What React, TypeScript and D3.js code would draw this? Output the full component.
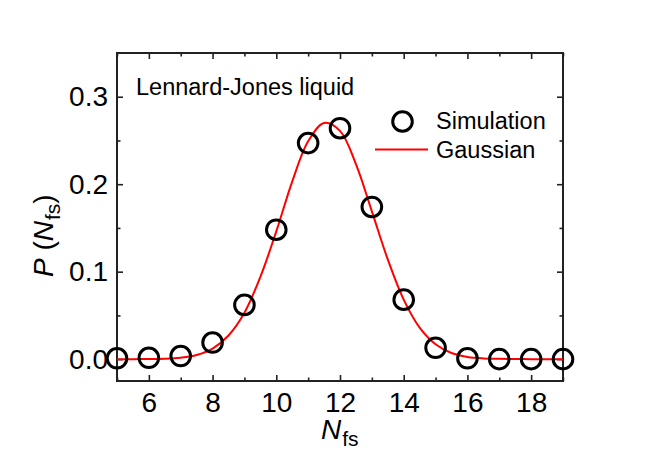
import React, { useEffect, useRef } from "react";
import * as d3 from "d3";

// number of first-shell neighbours
const nfs = [5, 6, 7, 8, 9, 10, 11, 12, 13, 14, 15, 16, 17, 18, 19];
// simulated probabilities (open circles)
const simulation = [0.001, 0.0015, 0.0035, 0.019, 0.062, 0.148, 0.247, 0.264, 0.174, 0.068, 0.013, 0.001, 0.0, 0.0, 0.0];

// gaussian fit
const gaussX = [5, 5.5, 6, 6.5, 7, 7.5, 8, 8.5, 9, 9.5, 10, 10.5, 11, 11.5, 12, 12.5, 13, 13.5, 14, 14.5, 15, 15.5, 16, 16.5, 17, 17.5, 18, 18.5, 19];
const gaussY = [0.0, 0.0, 0.0001, 0.0005, 0.0017, 0.0047, 0.012, 0.027, 0.053, 0.094, 0.146, 0.203, 0.249, 0.27, 0.261, 0.223, 0.169, 0.114, 0.068, 0.036, 0.017, 0.007, 0.0025, 0.0008, 0.0003, 0.0001, 0.0, 0.0, 0.0];

const xTicks = [6, 8, 10, 12, 14, 16, 18];
const xMinor = [5, 7, 9, 11, 13, 15, 17, 19];
const yTicks = [0.0, 0.1, 0.2, 0.3];
const yMinor = [0.05, 0.15, 0.25];

const font = "'Liberation Sans', Arial, sans-serif";

export default function App() {
  const ref = useRef<SVGSVGElement>(null);

  useEffect(() => {
    const svg = d3.select(ref.current);
    svg.selectAll("*").remove();

    const left = 117, right = 563, top = 53, bottom = 381;
    const x = d3.scaleLinear().domain([5, 19]).range([left, right]);
    const y = d3.scaleLinear().domain([-0.025, 0.35]).range([bottom, top]);

    const axisColor = "#222";
    const styleAxis = (g: any) => {
      g.select(".domain").remove();
      g.selectAll("line").attr("stroke", axisColor).attr("stroke-width", 1.6);
      g.selectAll("text")
        .attr("font-family", font)
        .attr("font-size", 28)
        .attr("fill", "#000");
    };

    // bottom
    svg.append("g")
      .attr("transform", `translate(0,${bottom})`)
      .call(d3.axisBottom(x).tickValues(xTicks).tickSize(-6).tickPadding(11).tickFormat(d3.format("d")))
      .call(styleAxis);
    svg.append("g")
      .attr("transform", `translate(0,${bottom})`)
      .call(d3.axisBottom(x).tickValues(xMinor).tickSize(-3.5).tickFormat(() => ""))
      .call(styleAxis);
    // top
    svg.append("g")
      .attr("transform", `translate(0,${top})`)
      .call(d3.axisTop(x).tickValues(xTicks).tickSize(-6).tickFormat(() => ""))
      .call(styleAxis);
    svg.append("g")
      .attr("transform", `translate(0,${top})`)
      .call(d3.axisTop(x).tickValues(xMinor).tickSize(-3.5).tickFormat(() => ""))
      .call(styleAxis);
    // left
    svg.append("g")
      .attr("transform", `translate(${left},0)`)
      .call(d3.axisLeft(y).tickValues(yTicks).tickSize(-6).tickPadding(9).tickFormat(d3.format(".1f")))
      .call(styleAxis);
    svg.append("g")
      .attr("transform", `translate(${left},0)`)
      .call(d3.axisLeft(y).tickValues(yMinor).tickSize(-3.5).tickFormat(() => ""))
      .call(styleAxis);
    // right
    svg.append("g")
      .attr("transform", `translate(${right},0)`)
      .call(d3.axisRight(y).tickValues(yTicks).tickSize(-6).tickFormat(() => ""))
      .call(styleAxis);
    svg.append("g")
      .attr("transform", `translate(${right},0)`)
      .call(d3.axisRight(y).tickValues(yMinor).tickSize(-3.5).tickFormat(() => ""))
      .call(styleAxis);

    // frame
    svg.append("rect")
      .attr("x", left).attr("y", top)
      .attr("width", right - left).attr("height", bottom - top)
      .attr("fill", "none").attr("stroke", axisColor).attr("stroke-width", 2);

    // gaussian curve
    const line = d3.line<number>()
      .x((d, i) => x(gaussX[i]))
      .y((d) => y(d))
      .curve(d3.curveCatmullRom);
    svg.append("path")
      .datum(gaussY)
      .attr("d", line)
      .attr("fill", "none")
      .attr("stroke", "#ff0000")
      .attr("stroke-width", 2);

    // simulation points
    svg.append("g")
      .selectAll("circle")
      .data(simulation)
      .enter()
      .append("circle")
      .attr("cx", (d, i) => x(nfs[i]))
      .attr("cy", (d) => y(d))
      .attr("r", 9.8)
      .attr("fill", "none")
      .attr("stroke", "#000")
      .attr("stroke-width", 3);

    // annotation
    svg.append("text")
      .attr("x", 136).attr("y", 95)
      .attr("font-family", font).attr("font-size", 23.5)
      .text("Lennard-Jones liquid");

    // legend
    svg.append("circle")
      .attr("cx", 402.5).attr("cy", 121.5).attr("r", 9.8)
      .attr("fill", "none").attr("stroke", "#000").attr("stroke-width", 3);
    svg.append("text")
      .attr("x", 436).attr("y", 129)
      .attr("font-family", font).attr("font-size", 23.5)
      .text("Simulation");
    svg.append("line")
      .attr("x1", 375).attr("x2", 428).attr("y1", 149.5).attr("y2", 149.5)
      .attr("stroke", "#ff0000").attr("stroke-width", 2);
    svg.append("text")
      .attr("x", 436).attr("y", 158)
      .attr("font-family", font).attr("font-size", 23.5)
      .text("Gaussian");

    // x label
    const xl = svg.append("text")
      .attr("x", 321).attr("y", 439)
      .attr("font-family", font).attr("font-size", 28);
    xl.append("tspan").attr("font-style", "italic").text("N");
    xl.append("tspan").attr("font-size", 21).attr("dy", 7).attr("dx", 1).text("fs");

    // y label
    const yl = svg.append("text")
      .attr("transform", "translate(53,277) rotate(-90)")
      .attr("font-family", font).attr("font-size", 28);
    yl.append("tspan").attr("font-style", "italic").text("P");
    yl.append("tspan").text(" (");
    yl.append("tspan").attr("font-style", "italic").text("N");
    yl.append("tspan").attr("font-size", 21).attr("dy", 7).attr("dx", 1).text("fs");
    yl.append("tspan").attr("dy", -7).text(")");
  }, []);

  return (
    <svg
      ref={ref}
      width={654}
      height={457}
      style={{ position: "absolute", left: 0, top: 0, background: "#fff" }}
    />
  );
}
